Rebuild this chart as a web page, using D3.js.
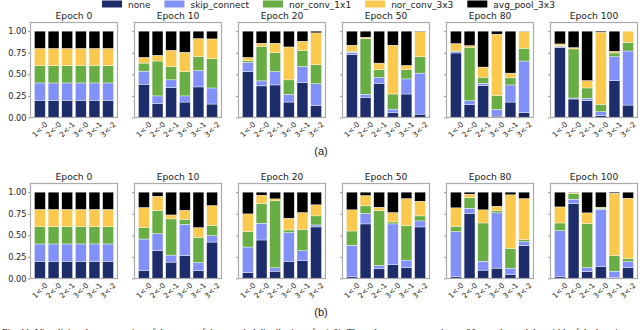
<!DOCTYPE html>
<html>
<head>
<meta charset="utf-8">
<script src="https://cdn.jsdelivr.net/npm/d3@7"></script>
<style>
  body { margin: 0; background: #fff; }
  svg { display: block; font-family: "DejaVu Sans", sans-serif; }
</style>
</head>
<body>
<svg id="svg" width="640" height="330"></svg>
<script>
// categories
var ops = ["none", "skip_connect", "nor_conv_1x1", "nor_conv_3x3", "avg_pool_3x3"];
var opColors = ["#1d2c6b", "#8291f7", "#69ad45", "#fac94d", "#000000"];
var edges = ["1<-0", "2<-0", "2<-1", "3<-0", "3<-1", "3<-2"];
var epochs = [0, 10, 20, 50, 80, 100];
var yTicks = [0, 0.25, 0.5, 0.75, 1.0];

// (a) one row per epoch, one value per edge
var noneA = [
  [.2, .2, .2, .2, .2, .2],
  [.385, .16, .346, .179, .354, .156],
  [.529, .366, .377, .179, .405, .136],
  [.728, .23, .397, .054, .272, .039],
  [.747, .148, .37, .016, .179, .058],
  [.813, .214, .195, .02, .428, .144]
];
var skipA = [
  [.2, .2, .2, .2, .2, .2],
  [.152, .09, .09, .071, .191, .186],
  [.109, .058, .156, .089, .186, .257],
  [.027, .038, .066, .043, .175, .475],
  [.016, .047, .027, .077, .198, .596],
  [.012, .012, .027, .046, .276, .626]
];
var conv1A = [
  [.2, .2, .2, .2, .2, .2],
  [.093, .404, .154, .28, .159, .338],
  [.02, .401, .217, .168, .187, .218],
  [.012, .643, .09, .175, .106, .19],
  [.007, .618, .07, .164, .082, .148],
  [.008, .568, .12, .086, .043, .102]
];
var conv3A = [
  [.2, .2, .2, .2, .2, .2],
  [.066, .066, .188, .225, .21, .23],
  [.038, .035, .11, .381, .105, .369],
  [.07, .019, .077, .565, .05, .291],
  [.086, .02, .117, .708, .055, .195],
  [.019, .016, .086, .836, .02, .128]
];
var poolA = [
  [.2, .2, .2, .2, .2, .2],
  [.304, .28, .222, .245, .086, .09],
  [.304, .14, .14, .183, .117, .02],
  [.163, .07, .37, .163, .397, .005],
  [.144, .167, .416, .035, .486, .003],
  [.148, .19, .572, .012, .233, 0]
];

// (b)
var noneB = [
  [.2, .2, .2, .2, .2, .2],
  [.089, .322, .19, .267, .089, .422],
  [.07, .446, .085, .2, .205, .597],
  [.019, .632, .112, .159, .128, .597],
  [.019, .756, .097, .12, .043, .38],
  [.019, .868, .078, .136, .012, .128]
];
var skipB = [
  [.2, .2, .2, .2, .2, .2],
  [.368, .197, .081, .361, .097, .074],
  [.294, .194, .039, .331, .117, .023],
  [.365, .12, .039, .473, .085, .07],
  [.524, .058, .103, .64, .077, .046],
  [.535, .051, .05, .666, .073, .066]
];
var conv1B = [
  [.2, .2, .2, .2, .2, .2],
  [.136, .271, .419, .058, .291, .12],
  [.179, .228, .775, .031, .248, .105],
  [.166, .089, .636, .023, .399, .058],
  [.062, .12, .443, .023, .229, .024],
  [.089, .065, .508, .012, .179, .039]
];
var conv3B = [
  [.2, .2, .2, .2, .2, .2],
  [.229, .163, .046, .104, .112, .229],
  [.205, .097, .023, .136, .194, .128],
  [.245, .12, .039, .109, .314, .17],
  [.213, .043, .152, .054, .62, .476],
  [.186, .012, .124, .012, .724, .697]
];
var poolB = [
  [.2, .2, .2, .2, .2, .2],
  [.178, .047, .264, .21, .411, .155],
  [.252, .035, .078, .302, .236, .147],
  [.205, .039, .174, .236, .074, .105],
  [.182, .023, .205, .163, .031, .074],
  [.171, .004, .24, .174, .012, .07]
];

var rows = [
  {label: "(a)", top: 22.5, series: [noneA, skipA, conv1A, conv3A, poolA]},
  {label: "(b)", top: 183.5, series: [noneB, skipB, conv1B, conv3B, poolB]}
];

var svg = d3.select("#svg");
var panel = {left: 30.5, step: 104, width: 87, height: 95};

var xScale = d3.scaleLinear().domain([-0.69, 5.69]).range([0, panel.width]);
var yScale = d3.scaleLinear().domain([0, 1.1]).range([panel.height, 0]);
var color = d3.scaleOrdinal().domain(ops).range(opColors);
var barW = xScale(0.4) - xScale(-0.4);
var stack = d3.stack().keys(ops);

rows.forEach(function(row) {
  epochs.forEach(function(ep, e) {
    var table = edges.map(function(edge, i) {
      var d = {edge: edge, i: i};
      ops.forEach(function(op, k) { d[op] = row.series[k][e][i]; });
      return d;
    });

    var g = svg.append("g")
      .attr("transform", "translate(" + (panel.left + e * panel.step) + "," + row.top + ")");

    g.append("text")
      .attr("x", panel.width / 2)
      .attr("y", -3.5)
      .attr("text-anchor", "middle")
      .attr("font-size", "9.2px")
      .attr("fill", "#222")
      .text("Epoch " + ep);

    g.selectAll("g.layer").data(stack(table)).enter()
      .append("g")
      .attr("class", "layer")
      .attr("fill", function(d) { return color(d.key); })
      .selectAll("rect").data(function(d) { return d; }).enter()
      .append("rect")
      .attr("x", function(d) { return xScale(d.data.i) - barW / 2; })
      .attr("y", function(d) { return yScale(d[1]); })
      .attr("width", barW)
      .attr("height", function(d) { return Math.max(0, yScale(d[0]) - yScale(d[1])); })
      .attr("stroke", "#fff")
      .attr("stroke-width", 0.4);

    var yAxis = g.append("g")
      .call(d3.axisLeft(yScale).tickValues(yTicks).tickSize(2.5)
        .tickFormat(e === 0 ? d3.format(".2f") : ""));
    yAxis.select(".domain").remove();
    yAxis.selectAll("line").attr("stroke", "#999");
    yAxis.selectAll("text").attr("font-size", "8.2px").attr("fill", "#222")
      .attr("font-family", "DejaVu Sans").attr("x", -4);

    var xAxis = g.append("g")
      .attr("transform", "translate(0," + panel.height + ")");
    xAxis.selectAll("text").data(edges).enter()
      .append("text")
      .attr("transform", function(d, i) {
        return "translate(" + xScale(i) + ",12) rotate(-45)";
      })
      .attr("text-anchor", "middle")
      .attr("dominant-baseline", "central")
      .attr("font-size", "7.3px")
      .attr("fill", "#222")
      .text(function(d) { return d; });

    g.append("rect")
      .attr("width", panel.width)
      .attr("height", panel.height)
      .attr("fill", "none")
      .attr("stroke", "#aaa")
      .attr("stroke-width", 1.2);
  });

  svg.append("text")
    .attr("x", 321)
    .attr("y", row.top + 132.5)
    .attr("text-anchor", "middle")
    .attr("font-family", "Liberation Sans, Arial, sans-serif")
    .attr("font-size", "11px")
    .attr("fill", "#222")
    .text(row.label);
});

// legend
var legend = svg.append("g");
var lx = 102;
ops.forEach(function(op, k) {
  legend.append("rect")
    .attr("x", lx).attr("y", 0.5)
    .attr("width", 20).attr("height", 7)
    .attr("fill", color(op));
  var t = legend.append("text")
    .attr("x", lx + 26).attr("y", 7.5)
    .attr("font-size", "9px")
    .attr("fill", "#222")
    .text(op);
  lx += 26 + t.node().getComputedTextLength() + 14;
});

// caption, cut off by the bottom edge
svg.append("text")
  .attr("x", 2)
  .attr("y", 336)
  .attr("font-family", "Liberation Serif, serif")
  .attr("font-size", "10px")
  .attr("fill", "#222")
  .text("Fig. 11: Visualizing the progression of the mean of the sampled distribution of \u03b1 (p\u03b8). The values are averaged over 20 samples and the width of the bars is proportional");
</script>
</body>
</html>
